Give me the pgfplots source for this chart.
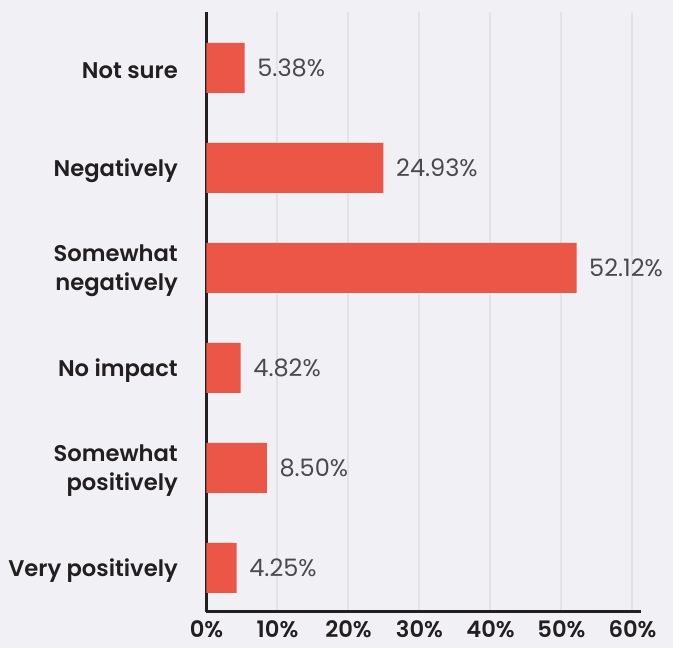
\documentclass[border=0pt]{standalone}
\usepackage{pgfplots}
\pgfplotsset{compat=1.18}
\usepackage{fontspec}
\setmainfont{Poppins}[BoldFont={* SemiBold}]
\definecolor{bg}{HTML}{F1F0F5}
\definecolor{barc}{HTML}{EC5646}
\definecolor{axisc}{HTML}{231F20}
\definecolor{gridc}{HTML}{E3E2E7}
\definecolor{valc}{HTML}{4A4A4A}
\begin{document}
\begin{tikzpicture}
\fill[bg] (-154.875pt,-27pt) rectangle (349.875pt,459pt);
\begin{axis}[
  at={(0pt,0pt)}, anchor=south west, scale only axis,
  width=325.875pt, height=450pt,
  xmin=0, xmax=61.2, ymin=-0.44, ymax=5.56,
  xbar, bar width=37.5pt, bar shift=0pt,
  axis x line*=bottom, axis y line*=left,
  axis line style={axisc, line width=2.25pt, -},
  major tick length=0pt,
  xmajorgrids, grid style={gridc, line width=1.5pt},
  xtick={0,10,...,60},
  xticklabel={\pgfmathprintnumber{\tick}\%},
  /pgf/number format/assume math mode=true,
  xticklabel style={font=\bfseries\fontsize{17}{20}\selectfont, text=axisc, yshift=-3pt},
  ytick={0,...,5},
  yticklabels={Very positively, {Somewhat\\positively}, No impact, {Somewhat\\negatively}, Negatively, Not sure},
  yticklabel style={align=right, font=\bfseries\fontsize{17}{21.75}\selectfont, text=axisc, xshift=-18pt, yshift=-2pt},
  nodes near coords={\pgfmathprintnumber[fixed, fixed zerofill, precision=2]{\pgfplotspointmeta}\%},
  nodes near coords style={font=\fontsize{18}{20}\selectfont, text=valc, anchor=west, xshift=6pt},
  clip=false,
]
\addplot[fill=barc, draw=none] coordinates {
  (4.25,0) (8.50,1) (4.82,2) (52.12,3) (24.93,4) (5.38,5)
};
\end{axis}
\pgfresetboundingbox
\path (-154.875pt,-27pt) rectangle (349.875pt,459pt);
\end{tikzpicture}
\end{document}
